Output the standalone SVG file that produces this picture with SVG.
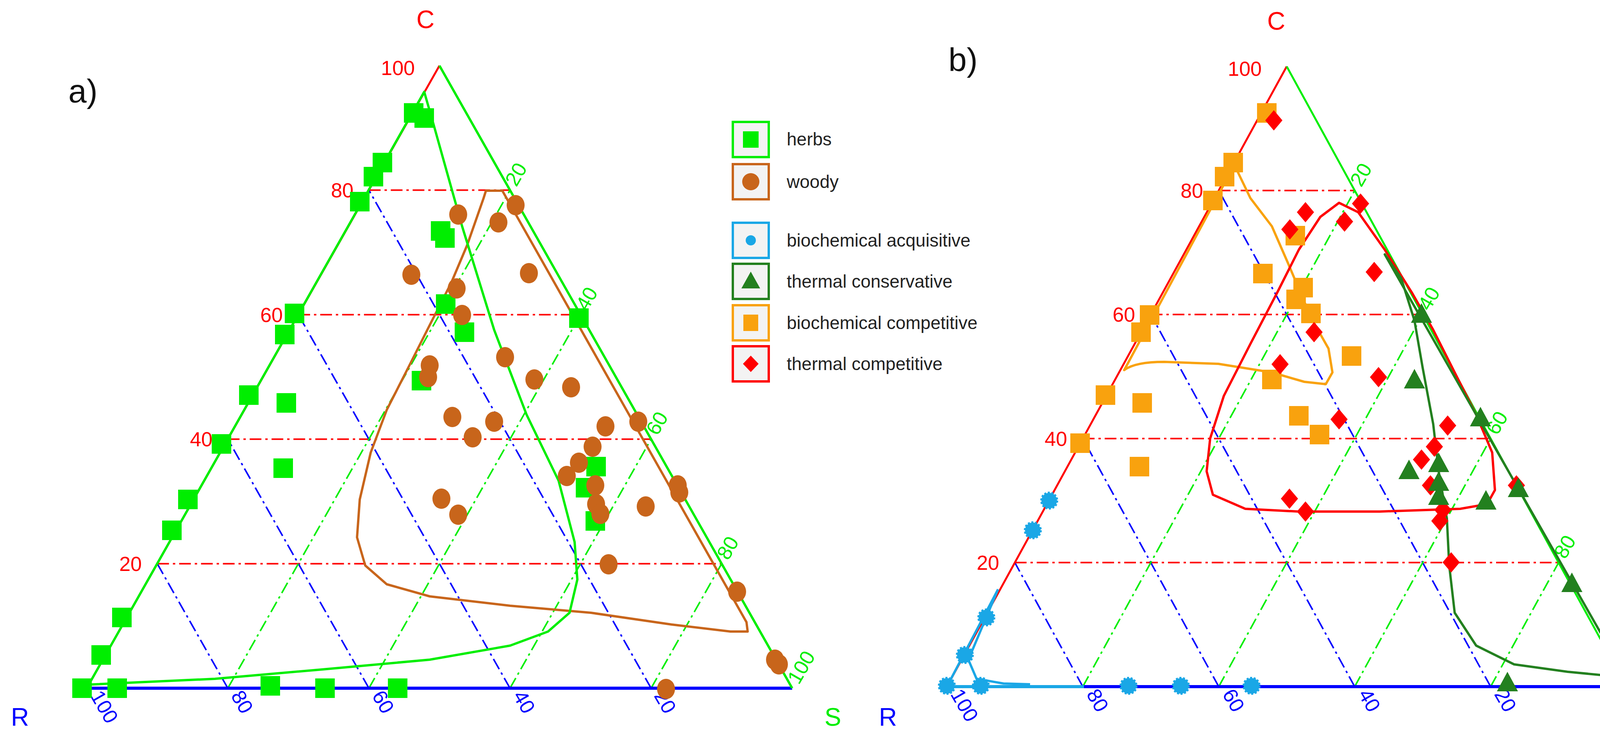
<svg xmlns="http://www.w3.org/2000/svg" xmlns:xlink="http://www.w3.org/1999/xlink" width="4313" height="1891" viewBox="0 0 4313 1891">
<style>
text{font-family:"Liberation Sans",Arial,sans-serif}
.gr{stroke:#ff0000;stroke-width:4;stroke-dasharray:30 10 6 10;fill:none}
.gb{stroke:#0000ff;stroke-width:4;stroke-dasharray:30 10 6 10;fill:none}
.gg{stroke:#00ee00;stroke-width:4;stroke-dasharray:30 10 6 10;fill:none}
.lr{fill:#ff0000;font-size:52px}
.lb{fill:#0000ff;font-size:52px}
.lg{fill:#00ee00;font-size:52px}
.ax{font-size:64px}
.leg{font-size:46px;fill:#222}
.box{fill:#f3f3f3;stroke-width:6}
</style>
<defs>
<rect id="sq" x="-25" y="-25" width="50" height="50" fill="#00ee00"/>
<rect id="osq" x="-25" y="-25" width="50" height="50" fill="#f9a20e"/>
<ellipse id="ci" rx="23" ry="26" fill="#c8651b"/>
<polygon id="di" points="0,-26 22,0 0,26 -22,0" fill="#ff0000"/>
<polygon id="tr" points="0,-30 27,20 -27,20" fill="#23801f"/>
<circle id="bd" r="20" fill="#1aa7e6" stroke="#1aa7e6" stroke-width="6" stroke-dasharray="5 4"/>
</defs>

<g id="panel-a-grid">
<path class="gr" d="M402.6,1442.4H1847.4M583.2,1123.8H1666.8M763.8,805.2H1486.2M944.4,486.6H1305.6"/>
<path class="gb" d="M583.2,1761L402.6,1442.4M944.4,1761L583.2,1123.8M1305.6,1761L763.8,805.2M1666.8,1761L944.4,486.6"/>
<path class="gg" d="M583.2,1761L1305.6,486.6M944.4,1761L1486.2,805.2M1305.6,1761L1666.8,1123.8M1666.8,1761L1847.4,1442.4"/>
<line x1="222" y1="1761" x2="2028" y2="1761" stroke="#0000ff" stroke-width="8"/>
<line x1="222" y1="1761" x2="1125" y2="168" stroke="#ff0000" stroke-width="5"/>
<line x1="1125" y1="168" x2="2028" y2="1761" stroke="#00ee00" stroke-width="6"/>
</g>
<g id="panel-a-labels">
<text class="lr" x="1062" y="192" text-anchor="end">100</text>
<text class="lr" x="905" y="505" text-anchor="end">80</text>
<text class="lr" x="724" y="824" text-anchor="end">60</text>
<text class="lr" x="544" y="1142" text-anchor="end">40</text>
<text class="lr" x="363" y="1461" text-anchor="end">20</text>
<text class="lb" transform="translate(230,1780) rotate(60)">100</text>
<text class="lb" transform="translate(590,1780) rotate(60)">80</text>
<text class="lb" transform="translate(951,1780) rotate(60)">60</text>
<text class="lb" transform="translate(1312,1780) rotate(60)">40</text>
<text class="lb" transform="translate(1673,1780) rotate(60)">20</text>
<text class="lg" transform="translate(1322,480) rotate(-60)">20</text>
<text class="lg" transform="translate(1503,798) rotate(-60)">40</text>
<text class="lg" transform="translate(1683,1117) rotate(-60)">60</text>
<text class="lg" transform="translate(1864,1436) rotate(-60)">80</text>
<text class="lg" transform="translate(2045,1754) rotate(-60)">100</text>
<text class="ax" x="1089" y="72" text-anchor="middle" fill="#ff0000">C</text>
<text class="ax" x="51" y="1857" text-anchor="middle" fill="#0000ff">R</text>
<text class="ax" x="2132" y="1857" text-anchor="middle" fill="#00ee00">S</text>
<text x="175" y="262" font-size="84" fill="#111">a)</text>
</g>
<g id="panel-a-contours" fill="none" stroke-width="6" stroke-linejoin="round">
<path stroke="#c8651b" d="M1244,488L1286,488L1911,1592L1914,1616L1870,1616L1719,1598L1513,1568L1306,1550L1100,1526L990,1495L935,1447L914,1375L921,1278L949,1158L990,1049L1045,941L1100,832L1155,724L1196,627L1238,507Z"/>
<path stroke="#00ee00" d="M1086,235L1107,308L1183,579L1265,844L1348,1061L1430,1230L1471,1387L1478,1483L1458,1568L1403,1616L1306,1652L1100,1688L825,1713L550,1737L222,1752L222,1761L1086,235Z"/>
</g>
<g id="panel-a-herbs">
<use href="#sq" x="1059" y="289"/><use href="#sq" x="1086" y="302"/><use href="#sq" x="979" y="416"/><use href="#sq" x="956" y="452"/><use href="#sq" x="921" y="516"/><use href="#sq" x="1128" y="591"/><use href="#sq" x="1139" y="609"/><use href="#sq" x="754" y="802"/><use href="#sq" x="729" y="856"/><use href="#sq" x="1141" y="778"/><use href="#sq" x="1189" y="850"/><use href="#sq" x="637" y="1011"/><use href="#sq" x="733" y="1031"/><use href="#sq" x="1079" y="974"/><use href="#sq" x="567" y="1136"/><use href="#sq" x="725" y="1198"/><use href="#sq" x="481" y="1278"/><use href="#sq" x="440" y="1357"/><use href="#sq" x="312" y="1580"/><use href="#sq" x="259" y="1676"/><use href="#sq" x="210" y="1761"/><use href="#sq" x="300" y="1761"/><use href="#sq" x="692" y="1755"/><use href="#sq" x="832" y="1761"/><use href="#sq" x="1018" y="1761"/><use href="#sq" x="1482" y="814"/><use href="#sq" x="1526" y="1194"/><use href="#sq" x="1499" y="1248"/><use href="#sq" x="1524" y="1333"/>
</g>
<g id="panel-a-woody">
<use href="#ci" x="1173" y="549"/><use href="#ci" x="1276" y="569"/><use href="#ci" x="1320" y="525"/><use href="#ci" x="1354" y="699"/><use href="#ci" x="1053" y="703"/><use href="#ci" x="1169" y="738"/><use href="#ci" x="1183" y="806"/><use href="#ci" x="1293" y="914"/><use href="#ci" x="1100" y="935"/><use href="#ci" x="1096" y="965"/><use href="#ci" x="1368" y="971"/><use href="#ci" x="1462" y="991"/><use href="#ci" x="1158" y="1067"/><use href="#ci" x="1265" y="1079"/><use href="#ci" x="1210" y="1119"/><use href="#ci" x="1550" y="1091"/><use href="#ci" x="1634" y="1079"/><use href="#ci" x="1517" y="1143"/><use href="#ci" x="1482" y="1184"/><use href="#ci" x="1451" y="1218"/><use href="#ci" x="1524" y="1242"/><use href="#ci" x="1735" y="1242"/><use href="#ci" x="1739" y="1260"/><use href="#ci" x="1130" y="1276"/><use href="#ci" x="1173" y="1317"/><use href="#ci" x="1526" y="1290"/><use href="#ci" x="1537" y="1315"/><use href="#ci" x="1653" y="1296"/><use href="#ci" x="1558" y="1444"/><use href="#ci" x="1887" y="1514"/><use href="#ci" x="1984" y="1688"/><use href="#ci" x="1994" y="1700"/><use href="#ci" x="1705" y="1763"/>
</g>

<g id="legend">
<rect class="box" x="1876" y="312" width="92" height="90" stroke="#00ee00"/><rect x="1902" y="336" width="40" height="42" fill="#00ee00"/><text class="leg" x="2014" y="372">herbs</text>
<rect class="box" x="1876" y="420" width="92" height="90" stroke="#c8651b"/><circle cx="1922" cy="465" r="22" fill="#c8651b"/><text class="leg" x="2014" y="481">woody</text>
<rect class="box" x="1876" y="570" width="92" height="90" stroke="#1aa7e6"/><circle cx="1922" cy="615" r="13" fill="#1aa7e6"/><text class="leg" x="2014" y="631">biochemical acquisitive</text>
<rect class="box" x="1876" y="675" width="92" height="90" stroke="#23801f"/><polygon points="1922,695 1946,738 1898,738" fill="#23801f"/><text class="leg" x="2014" y="736">thermal conservative</text>
<rect class="box" x="1876" y="781" width="92" height="90" stroke="#f9a20e"/><rect x="1903" y="805" width="38" height="42" fill="#f9a20e"/><text class="leg" x="2014" y="842">biochemical competitive</text>
<rect class="box" x="1876" y="886" width="92" height="90" stroke="#ff0000"/><polygon points="1922,910 1942,931 1922,952 1902,931" fill="#ff0000"/><text class="leg" x="2014" y="947">thermal competitive</text>
</g>

<g id="panel-b-grid">
<path class="gr" d="M2598,1439.6H3990M2772,1122.2H3816M2946,804.8H3642M3120,487.4H3468"/>
<path class="gb" d="M2772,1757L2598,1439.6M3120,1757L2772,1122.2M3468,1757L2946,804.8M3816,1757L3120,487.4"/>
<path class="gg" d="M2772,1757L3468,487.4M3120,1757L3642,804.8M3468,1757L3816,1122.2M3816,1757L3990,1439.6"/>
<line x1="2424" y1="1757" x2="4164" y2="1757" stroke="#0000ff" stroke-width="8"/>
<line x1="2424" y1="1757" x2="2775" y2="1757" stroke="#1aa7e6" stroke-width="8"/>
<line x1="2424" y1="1757" x2="3294" y2="170" stroke="#ff0000" stroke-width="5"/>
<line x1="3294" y1="170" x2="4164" y2="1757" stroke="#00ee00" stroke-width="5"/>
</g>
<g id="panel-b-labels">
<text class="lr" x="3230" y="194" text-anchor="end">100</text>
<text class="lr" x="3080" y="506" text-anchor="end">80</text>
<text class="lr" x="2906" y="823" text-anchor="end">60</text>
<text class="lr" x="2732" y="1141" text-anchor="end">40</text>
<text class="lr" x="2558" y="1458" text-anchor="end">20</text>
<text class="lb" transform="translate(2432,1776) rotate(60)">100</text>
<text class="lb" transform="translate(2780,1776) rotate(60)">80</text>
<text class="lb" transform="translate(3128,1776) rotate(60)">60</text>
<text class="lb" transform="translate(3476,1776) rotate(60)">40</text>
<text class="lb" transform="translate(3824,1776) rotate(60)">20</text>
<text class="lg" transform="translate(3485,481) rotate(-60)">20</text>
<text class="lg" transform="translate(3659,798) rotate(-60)">40</text>
<text class="lg" transform="translate(3833,1116) rotate(-60)">60</text>
<text class="lg" transform="translate(4007,1433) rotate(-60)">80</text>
<text class="lg" transform="translate(4181,1750) rotate(-60)">100</text>
<text class="ax" x="3267" y="76" text-anchor="middle" fill="#ff0000">C</text>
<text class="ax" x="2273" y="1857" text-anchor="middle" fill="#0000ff">R</text>
<text class="ax" x="4261" y="1857" text-anchor="middle" fill="#00ee00">S</text>
<text x="2428" y="182" font-size="84" fill="#111">b)</text>
</g>
<g id="panel-b-contours" fill="none" stroke-width="6" stroke-linejoin="round">
<path stroke="#f9a20e" d="M3160,422L2878,947C2900,930 2940,926 2981,926L3119,931L3256,953L3339,977L3394,983L3411,953L3401,892L3367,832L3339,772L3298,675L3256,579L3201,507Z"/>
<path stroke="#ff0000" d="M3428,519L3477,543L3545,639L3614,748L3669,844L3724,953L3779,1061L3820,1158L3827,1254L3807,1290L3738,1302L3532,1309L3325,1309L3188,1302L3105,1266L3089,1206L3098,1122L3133,1013L3201,880L3270,748L3325,639L3380,555Z"/>
<path stroke="#23801f" d="M3545,651L4151,1713L4137,1731L4013,1719L3876,1700L3779,1652L3724,1568L3710,1447L3704,1327L3683,1206L3669,1085L3642,941L3621,820L3587,712Z"/>
<path stroke="#1aa7e6" d="M2555,1508L2424,1757L2637,1755M2555,1508L2479,1688L2500,1737L2569,1749L2637,1751"/>
</g>
<g id="panel-b-biochem-comp">
<use href="#osq" x="3243" y="289"/><use href="#osq" x="3157" y="416"/><use href="#osq" x="3135" y="452"/><use href="#osq" x="3105" y="513"/><use href="#osq" x="3316" y="603"/><use href="#osq" x="3233" y="700"/><use href="#osq" x="3336" y="736"/><use href="#osq" x="3318" y="766"/><use href="#osq" x="3356" y="802"/><use href="#osq" x="2943" y="806"/><use href="#osq" x="2921" y="850"/><use href="#osq" x="3460" y="911"/><use href="#osq" x="3256" y="971"/><use href="#osq" x="2830" y="1011"/><use href="#osq" x="2924" y="1031"/><use href="#osq" x="3325" y="1064"/><use href="#osq" x="3378" y="1112"/><use href="#osq" x="2765" y="1134"/><use href="#osq" x="2917" y="1194"/>
</g>
<g id="panel-b-thermal-comp">
<use href="#di" x="3261" y="308"/><use href="#di" x="3342" y="543"/><use href="#di" x="3302" y="587"/><use href="#di" x="3483" y="521"/><use href="#di" x="3442" y="567"/><use href="#di" x="3518" y="696"/><use href="#di" x="3364" y="850"/><use href="#di" x="3277" y="932"/><use href="#di" x="3529" y="965"/><use href="#di" x="3428" y="1073"/><use href="#di" x="3706" y="1089"/><use href="#di" x="3672" y="1143"/><use href="#di" x="3639" y="1176"/><use href="#di" x="3662" y="1242"/><use href="#di" x="3882" y="1242"/><use href="#di" x="3301" y="1276"/><use href="#di" x="3342" y="1309"/><use href="#di" x="3694" y="1305"/><use href="#di" x="3686" y="1333"/><use href="#di" x="3715" y="1439"/>
</g>
<g id="panel-b-thermal-cons">
<use href="#tr" x="3639" y="806"/><use href="#tr" x="3621" y="974"/><use href="#tr" x="3790" y="1071"/><use href="#tr" x="3683" y="1188"/><use href="#tr" x="3607" y="1206"/><use href="#tr" x="3683" y="1236"/><use href="#tr" x="3683" y="1272"/><use href="#tr" x="3804" y="1284"/><use href="#tr" x="3887" y="1252"/><use href="#tr" x="4024" y="1495"/><use href="#tr" x="4123" y="1682"/><use href="#tr" x="4130" y="1694"/><use href="#tr" x="3859" y="1749"/>
</g>
<g id="panel-b-biochem-acq">
<use href="#bd" x="2686" y="1281"/><use href="#bd" x="2644" y="1357"/><use href="#bd" x="2525" y="1580"/><use href="#bd" x="2470" y="1676"/><use href="#bd" x="2424" y="1755"/><use href="#bd" x="2511" y="1755"/><use href="#bd" x="2889" y="1755"/><use href="#bd" x="3023" y="1755"/><use href="#bd" x="3204" y="1755"/>
</g>
</svg>
